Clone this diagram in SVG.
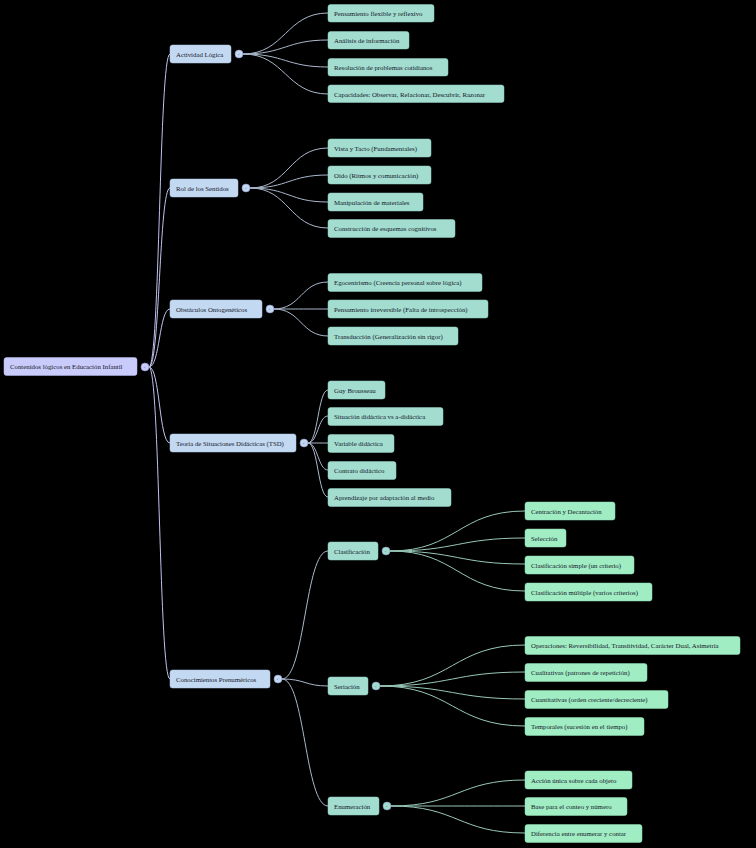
<svg xmlns="http://www.w3.org/2000/svg" width="756" height="848" viewBox="0 0 756 848">
<style>
text{font-family:"Liberation Serif","Times New Roman",serif;font-size:6.8px;fill:#15172a}
.r{fill:#c9ccfa;stroke:#b8bcf2;stroke-width:0.5}
.l1{fill:#c3d9f2;stroke:#b0c8e6;stroke-width:0.5}
.l2{fill:#a2ddd0;stroke:#92d0c2;stroke-width:0.5}
.l3{fill:#a0ecc3;stroke:#90dfb4;stroke-width:0.5}
.t{stroke:#8d92c8;stroke-width:0.6}
.tr{fill:#c9ccfa}.t1{fill:#c3d9f2}.t2{fill:#a2ddd0}
.tg{font-size:5px;fill:#555a80;text-anchor:middle}
.e0{fill:none;stroke:#c0c3ee;stroke-width:1}
.e1{fill:none;stroke:#aab8cc;stroke-width:1}
.e2{fill:none;stroke:#98c8b8;stroke-width:1}
</style>
<rect width="756" height="848" fill="#000"/>
<g id="connectors">
<path class="e0" d="M149 367 C160 367,159 54,170 54"/>
<path class="e0" d="M149 367 C160 367,159 188,170 188"/>
<path class="e0" d="M149 367 C160 367,159 309,170 309"/>
<path class="e0" d="M149 367 C160 367,159 443,170 443"/>
<path class="e0" d="M149 367 C160 367,159 679,170 679"/>
<path class="e1" d="M243 54 C285 54,286 13,328 13"/>
<path class="e1" d="M243 54 C285 54,286 40,328 40"/>
<path class="e1" d="M243 54 C285 54,286 67,328 67"/>
<path class="e1" d="M243 54 C285 54,286 94,328 94"/>
<path class="e1" d="M250 188 C289 188,289 148,328 148"/>
<path class="e1" d="M250 188 C289 188,289 175,328 175"/>
<path class="e1" d="M250 188 C289 188,289 202,328 202"/>
<path class="e1" d="M250 188 C289 188,289 228,328 228"/>
<path class="e1" d="M274 309 C301 309,301 282,328 282"/>
<path class="e1" d="M274 309 C301 309,301 309,328 309"/>
<path class="e1" d="M274 309 C301 309,301 336,328 336"/>
<path class="e1" d="M308 443 C318 443,318 390,328 390"/>
<path class="e1" d="M308 443 C318 443,318 416,328 416"/>
<path class="e1" d="M308 443 C318 443,318 443,328 443"/>
<path class="e1" d="M308 443 C318 443,318 470,328 470"/>
<path class="e1" d="M308 443 C318 443,318 497,328 497"/>
<path class="e1" d="M282 679 C305 679,305 551,328 551"/>
<path class="e1" d="M282 679 C305 679,305 686,328 686"/>
<path class="e1" d="M282 679 C305 679,305 806,328 806"/>
<path class="e2" d="M390 551 C457 551,458 511,525 511"/>
<path class="e2" d="M390 551 C457 551,458 538,525 538"/>
<path class="e2" d="M390 551 C457 551,458 564,525 564"/>
<path class="e2" d="M390 551 C457 551,458 591,525 591"/>
<path class="e2" d="M380 686 C452 686,453 645,525 645"/>
<path class="e2" d="M380 686 C452 686,453 672,525 672"/>
<path class="e2" d="M380 686 C452 686,453 699,525 699"/>
<path class="e2" d="M380 686 C452 686,453 726,525 726"/>
<path class="e2" d="M391 806 C458 806,458 780,525 780"/>
<path class="e2" d="M391 806 C458 806,458 806,525 806"/>
<path class="e2" d="M391 806 C458 806,458 833,525 833"/>
</g>
<g id="root"><rect class="r" x="4" y="357.5" width="133" height="18" rx="2.5"/><text x="10" y="369">Contenidos lógicos en Educación Infantil</text><circle class="t tr" cx="145" cy="367" r="4"/><text class="tg" x="145" y="368.7">&lt;</text></g>
<g id="n-actividad"><rect class="l1" x="170" y="45" width="61" height="18" rx="2.5"/><text x="176" y="56.5">Actividad Lógica</text><circle class="t t1" cx="239" cy="54" r="4"/><text class="tg" x="239" y="55.7">&lt;</text></g>
<g id="n-sentidos"><rect class="l1" x="170" y="179" width="68" height="18" rx="2.5"/><text x="176" y="190.5">Rol de los Sentidos</text><circle class="t t1" cx="246" cy="188" r="4"/><text class="tg" x="246" y="189.7">&lt;</text></g>
<g id="n-obstaculos"><rect class="l1" x="170" y="300" width="92" height="18" rx="2.5"/><text x="176" y="311.5">Obstáculos Ontogenéticos</text><circle class="t t1" cx="270" cy="309" r="4"/><text class="tg" x="270" y="310.7">&lt;</text></g>
<g id="n-tsd"><rect class="l1" x="170" y="434" width="126" height="18" rx="2.5"/><text x="176" y="445.5">Teoría de Situaciones Didácticas (TSD)</text><circle class="t t1" cx="304" cy="443" r="4"/><text class="tg" x="304" y="444.7">&lt;</text></g>
<g id="n-prenumericos"><rect class="l1" x="170" y="670" width="100" height="18" rx="2.5"/><text x="176" y="681.5">Conocimientos Prenuméricos</text><circle class="t t1" cx="278" cy="679" r="4"/><text class="tg" x="278" y="680.7">&lt;</text></g>
<g id="n-a1"><rect class="l2" x="328" y="4.5" width="106" height="17.5" rx="2.5"/><text x="334" y="15.5">Pensamiento flexible y reflexivo</text></g>
<g id="n-a2"><rect class="l2" x="328" y="31.5" width="81" height="17.5" rx="2.5"/><text x="334" y="42.5">Análisis de información</text></g>
<g id="n-a3"><rect class="l2" x="328" y="58.5" width="120" height="17.5" rx="2.5"/><text x="334" y="69.5">Resolución de problemas cotidianos</text></g>
<g id="n-a4"><rect class="l2" x="328" y="85" width="176" height="17.5" rx="2.5"/><text x="334" y="96.5">Capacidades: Observar, Relacionar, Descubrir, Razonar</text></g>
<g id="n-s1"><rect class="l2" x="328" y="139" width="103" height="18" rx="2.5"/><text x="334" y="150.5">Vista y Tacto (Fundamentales)</text></g>
<g id="n-s2"><rect class="l2" x="328" y="166" width="103" height="18" rx="2.5"/><text x="334" y="177.5">Oído (Ritmos y comunicación)</text></g>
<g id="n-s3"><rect class="l2" x="328" y="193" width="95" height="18" rx="2.5"/><text x="334" y="204.5">Manipulación de materiales</text></g>
<g id="n-s4"><rect class="l2" x="328" y="219.5" width="127" height="18" rx="2.5"/><text x="334" y="231">Construcción de esquemas cognitivos</text></g>
<g id="n-o1"><rect class="l2" x="328" y="273.5" width="154" height="18" rx="2.5"/><text x="334" y="285">Egocentrismo (Creencia personal sobre lógica)</text></g>
<g id="n-o2"><rect class="l2" x="328" y="300" width="160" height="18" rx="2.5"/><text x="334" y="311.5">Pensamiento irreversible (Falta de introspección)</text></g>
<g id="n-o3"><rect class="l2" x="328" y="327" width="130" height="18" rx="2.5"/><text x="334" y="338.5">Transducción (Generalización sin rigor)</text></g>
<g id="n-t1"><rect class="l2" x="328" y="381" width="57" height="18" rx="2.5"/><text x="334" y="392.5">Guy Brousseau</text></g>
<g id="n-t2"><rect class="l2" x="328" y="407.5" width="115" height="18" rx="2.5"/><text x="334" y="419">Situación didáctica vs a-didáctica</text></g>
<g id="n-t3"><rect class="l2" x="328" y="434.5" width="66" height="18" rx="2.5"/><text x="334" y="446">Variable didáctica</text></g>
<g id="n-t4"><rect class="l2" x="328" y="461.5" width="68" height="18" rx="2.5"/><text x="334" y="473">Contrato didáctico</text></g>
<g id="n-t5"><rect class="l2" x="328" y="488.5" width="123" height="18" rx="2.5"/><text x="334" y="500">Aprendizaje por adaptación al medio</text></g>
<g id="n-clasificacion"><rect class="l2" x="328" y="542" width="50" height="18" rx="2.5"/><text x="334" y="553.5">Clasificación</text><circle class="t t2" cx="386" cy="551" r="4"/><text class="tg" x="386" y="552.7">&lt;</text></g>
<g id="n-seriacion"><rect class="l2" x="328" y="677" width="40" height="18" rx="2.5"/><text x="334" y="688.5">Seriación</text><circle class="t t2" cx="376" cy="686" r="4"/><text class="tg" x="376" y="687.7">&lt;</text></g>
<g id="n-enumeracion"><rect class="l2" x="328" y="797" width="51" height="18" rx="2.5"/><text x="334" y="808.5">Enumeración</text><circle class="t t2" cx="387" cy="806" r="4"/><text class="tg" x="387" y="807.7">&lt;</text></g>
<g id="n-c1"><rect class="l3" x="525" y="502" width="90" height="18" rx="2.5"/><text x="531" y="513.5">Centración y Decantación</text></g>
<g id="n-c2"><rect class="l3" x="525" y="529" width="41" height="18" rx="2.5"/><text x="531" y="540.5">Selección</text></g>
<g id="n-c3"><rect class="l3" x="525" y="556" width="109" height="18" rx="2.5"/><text x="531" y="567.5">Clasificación simple (un criterio)</text></g>
<g id="n-c4"><rect class="l3" x="525" y="583" width="127" height="18" rx="2.5"/><text x="531" y="594.5">Clasificación múltiple (varios criterios)</text></g>
<g id="n-r1"><rect class="l3" x="525" y="636.5" width="215" height="18" rx="2.5"/><text x="531" y="648">Operaciones: Reversibilidad, Transitividad, Carácter Dual, Asimetría</text></g>
<g id="n-r2"><rect class="l3" x="525" y="663.5" width="122" height="18" rx="2.5"/><text x="531" y="675">Cualitativas (patrones de repetición)</text></g>
<g id="n-r3"><rect class="l3" x="525" y="690.5" width="143" height="18" rx="2.5"/><text x="531" y="702">Cuantitativas (orden creciente/decreciente)</text></g>
<g id="n-r4"><rect class="l3" x="525" y="717.5" width="119" height="18" rx="2.5"/><text x="531" y="729">Temporales (sucesión en el tiempo)</text></g>
<g id="n-e1"><rect class="l3" x="525" y="771" width="107" height="18" rx="2.5"/><text x="531" y="782.5">Acción única sobre cada objeto</text></g>
<g id="n-e2"><rect class="l3" x="525" y="797.5" width="102" height="18" rx="2.5"/><text x="531" y="809">Base para el conteo y número</text></g>
<g id="n-e3"><rect class="l3" x="525" y="824.5" width="117" height="18" rx="2.5"/><text x="531" y="836">Diferencia entre enumerar y contar</text></g>
</svg>
